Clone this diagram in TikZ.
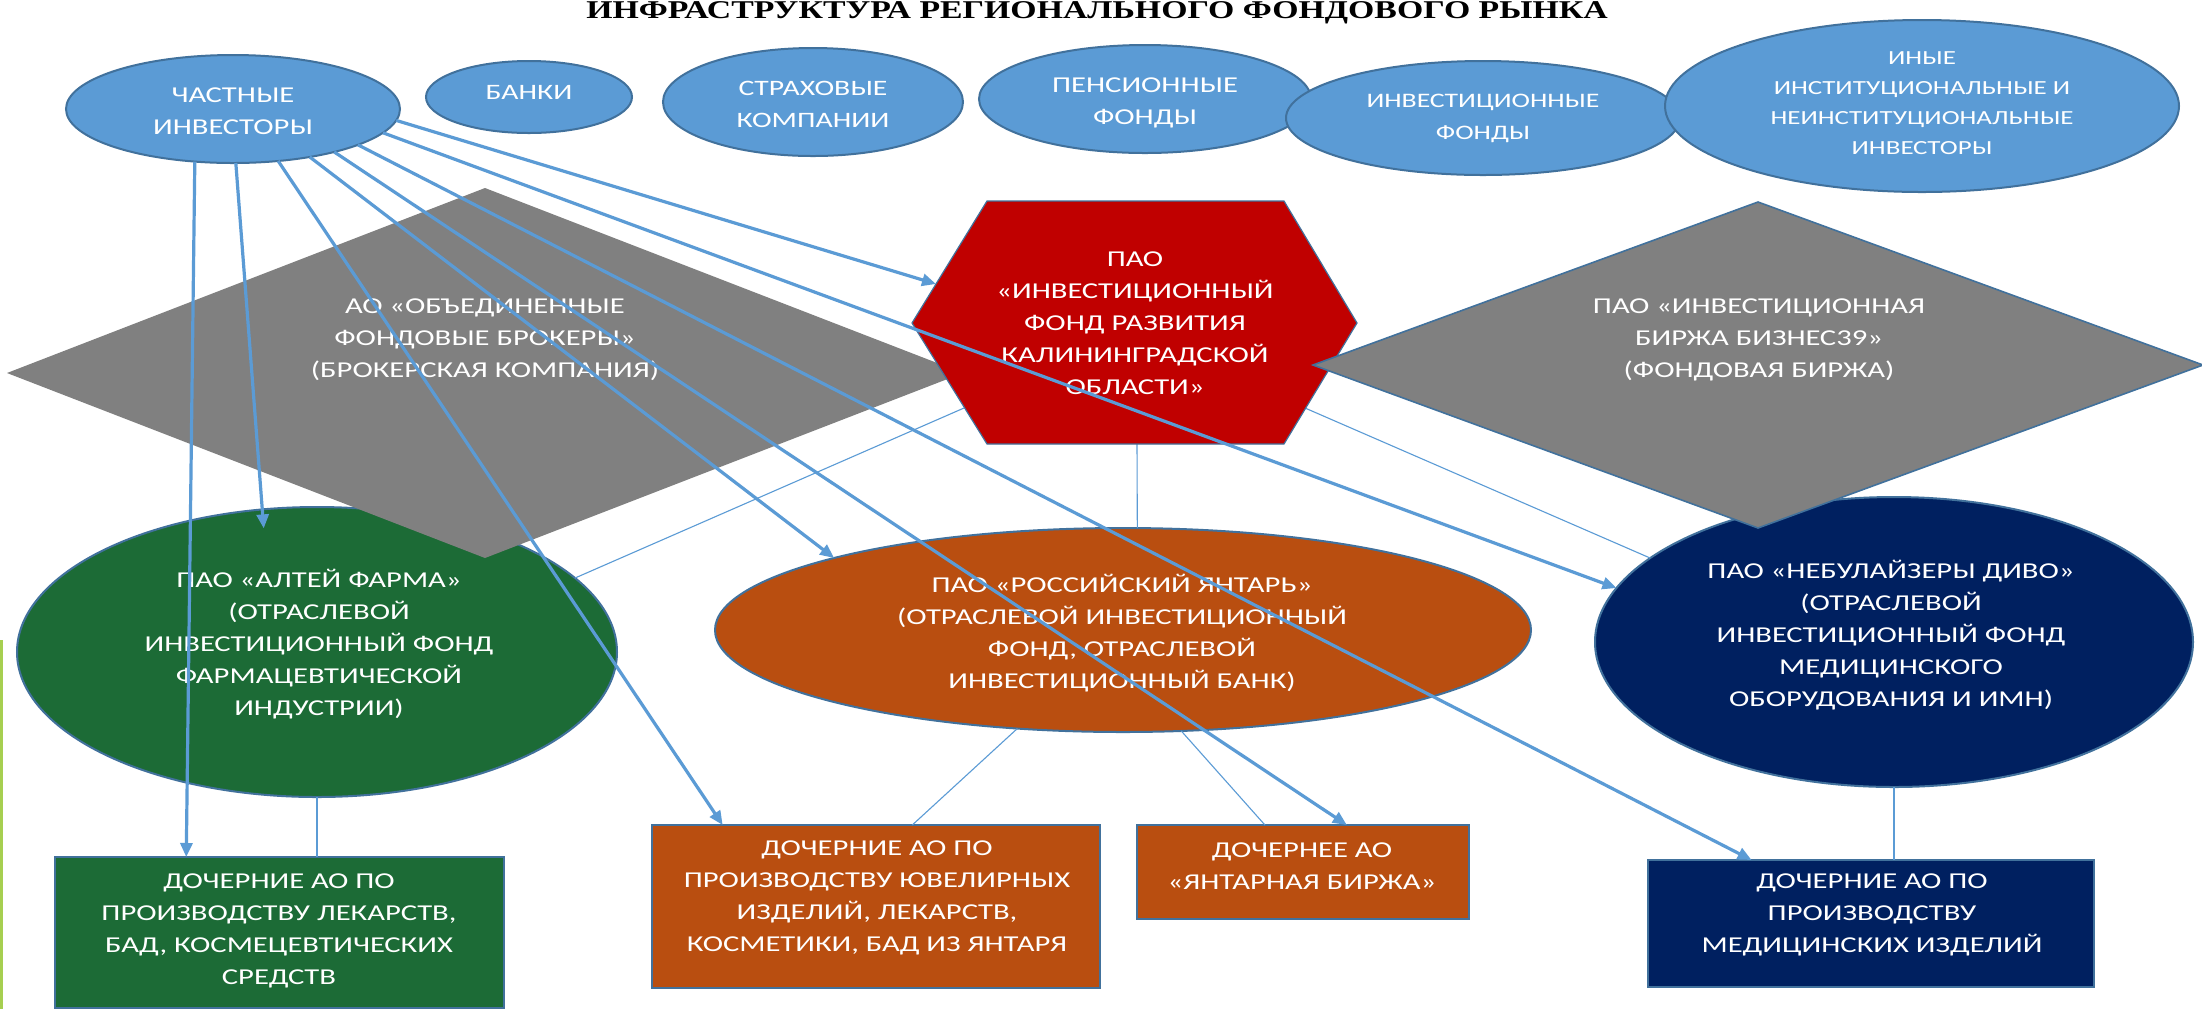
\documentclass[tikz,border=0pt]{standalone}
\usepackage{fontspec}
\setmainfont{Carlito}
\newfontfamily\bodyfont[FakeStretch=1.35]{Carlito}
\newfontfamily\titlefont[FakeStretch=1.32]{Liberation Serif}
\usetikzlibrary{shapes.geometric,arrows.meta,calc}
\definecolor{blueF}{HTML}{5B9BD5}
\definecolor{blueD}{HTML}{41719C}
\definecolor{grn}{HTML}{1C6B36}
\definecolor{brn}{HTML}{B94E10}
\definecolor{nvy}{HTML}{002060}
\definecolor{redH}{HTML}{C00000}
\definecolor{gry}{HTML}{808080}
\definecolor{limeL}{RGB}{166,207,80}
\definecolor{lnk}{HTML}{5B9BD5}
\tikzset{
  shp/.style={draw=blueD, line width=1pt, inner sep=0pt, outer sep=0pt},
  bell/.style={shp, ellipse, fill=blueF},
  cell/.style={shp, ellipse},
  box/.style={shp, rectangle},
  dia/.style={diamond, fill=gry, inner sep=0pt, outer sep=0pt},
  txt/.style={text=white, align=center, inner sep=0pt,
    font=\bodyfont\fontsize{11.35}{16}\selectfont},
  fs/.style={font=\bodyfont\fontsize{#1}{16}\selectfont},
  arr/.style={draw=lnk, line width=1.6pt, -{Triangle[length=7pt,width=6pt]}},
  thin/.style={draw=lnk, line width=0.55pt},
}
\begin{document}
\begin{tikzpicture}[x=0.5pt,y=-0.5pt]
\useasboundingbox (0,0) rectangle (2202,1009);
\fill[white] (0,0) rectangle (2202,1009);

% title
\node[inner sep=0pt, font=\titlefont\bfseries\fontsize{12.8}{14}\selectfont] (title) at (1097,13)
  {ИНФРАСТРУКТУРА РЕГИОНАЛЬНОГО ФОНДОВОГО РЫНКА};

% left decorative line
\draw[limeL, line width=1.5pt] (1.5,640) -- (1.5,1009);

% top investor ellipses
\node[bell, minimum width=167pt, minimum height=54pt] (chi) at (233,109) {};
\node[bell, minimum width=103pt, minimum height=36pt] (bank) at (529,97) {};
\node[bell, minimum width=150pt, minimum height=54pt] (strah) at (813,102) {};
\node[bell, minimum width=166pt, minimum height=54pt] (pens) at (1145,99) {};
\node[bell, minimum width=197pt, minimum height=57pt] (inv) at (1483,118) {};
\node[bell, minimum width=257pt, minimum height=86pt] (other) at (1922,106) {};
\node[txt] (chiT) at (233,111) {ЧАСТНЫЕ\\ИНВЕСТОРЫ};
\node[txt, fs=11] (bankT) at (529,92) {БАНКИ};
\node[txt, fs=11] (strahT) at (813,104) {СТРАХОВЫЕ\\КОМПАНИИ};
\node[txt] (pensT) at (1145,103) {ПЕНСИОННЫЕ\\ФОНДЫ};
\node[txt, fs=10.3] (invT) at (1483,118) {ИНВЕСТИЦИОННЫЕ\\ФОНДЫ};
\node[txt, font=\bodyfont\fontsize{10}{15}\selectfont] (otherT) at (1922,103)
  {ИНЫЕ\\ИНСТИТУЦИОНАЛЬНЫЕ И\\НЕИНСТИТУЦИОНАЛЬНЫЕ\\ИНВЕСТОРЫ};

% bottom ellipses
\node[cell, fill=grn, minimum width=300pt, minimum height=145pt] (altei) at (317,652) {};
\node[cell, fill=brn, minimum width=408pt, minimum height=102pt] (yantar) at (1123,630) {};
\node[cell, fill=nvy, minimum width=299pt, minimum height=145pt] (nebul) at (1894,642) {};

% bottom boxes
\node[box, fill=grn, minimum width=224.5pt, minimum height=75.5pt] (grect) at (279.5,932.5) {};
\node[box, fill=brn, minimum width=224pt, minimum height=81.5pt] (brect) at (876,906.5) {};
\node[box, fill=brn, minimum width=166pt, minimum height=47pt] (yrect) at (1303,872) {};
\node[box, fill=nvy, minimum width=223pt, minimum height=63.5pt] (nrect) at (1871,923.5) {};

% thin tree connectors
\coordinate (hexB) at (1137,444);
\coordinate (hexLL) at (964,408);
\coordinate (hexLR) at (1305,408);
\coordinate (hexL) at (936,284);
\draw[thin] (hexB) -- (yantar.82);
\draw[thin] (hexLL) -- (altei.16);
\draw[thin] (hexLR) -- (nebul.161);
\draw[thin] (altei.south) -- (altei.south |- grect.north);
\draw[thin] (yantar.223) -- (brect.66);
\draw[thin] (yantar.300) -- (yrect.129);
\draw[thin] (nebul.south) -- (nebul.south |- nrect.north);

% left diamond
\node[dia, minimum width=478pt, minimum height=185pt] (brok) at (485,373) {};

% hexagon
\draw[fill=redH, draw=blueD, line width=0.6pt]
  (987,201) -- (1284,201) -- (1357,323) -- (1284,444) -- (987,444) -- (912,323) -- cycle;

% right diamond
\node[dia, draw=blueD, line width=0.8pt, minimum width=445pt, minimum height=163pt] (birzha) at (1758,365) {};

% texts of middle and bottom shapes
\node[txt] (brokT) at (485,340) {АО «ОБЪЕДИНЕННЫЕ\\ФОНДОВЫЕ БРОКЕРЫ»\\(БРОКЕРСКАЯ КОМПАНИЯ)};
\node[txt] (hexT) at (1135,323) {ПАО\\«ИНВЕСТИЦИОННЫЙ\\ФОНД РАЗВИТИЯ\\КАЛИНИНГРАДСКОЙ\\ОБЛАСТИ»};
\node[txt] (birzhaT) at (1759,340) {ПАО «ИНВЕСТИЦИОННАЯ\\БИРЖА БИЗНЕС39»\\(ФОНДОВАЯ БИРЖА)};
\node[txt] (alteiT) at (319,644) {ПАО «АЛТЕЙ ФАРМА»\\(ОТРАСЛЕВОЙ\\ИНВЕСТИЦИОННЫЙ ФОНД\\ФАРМАЦЕВТИЧЕСКОЙ\\ИНДУСТРИИ)};
\node[txt] (yantarT) at (1122,633) {ПАО «РОССИЙСКИЙ ЯНТАРЬ»\\(ОТРАСЛЕВОЙ ИНВЕСТИЦИОННЫЙ\\ФОНД, ОТРАСЛЕВОЙ\\ИНВЕСТИЦИОННЫЙ БАНК)};
\node[txt] (nebulT) at (1891,635) {ПАО «НЕБУЛАЙЗЕРЫ ДИВО»\\(ОТРАСЛЕВОЙ\\ИНВЕСТИЦИОННЫЙ ФОНД\\МЕДИЦИНСКОГО\\ОБОРУДОВАНИЯ И ИМН)};
\node[txt] (grectT) at (279,931) {ДОЧЕРНИЕ АО ПО\\ПРОИЗВОДСТВУ ЛЕКАРСТВ,\\БАД, КОСМЕЦЕВТИЧЕСКИХ\\СРЕДСТВ};
\node[txt] (brectT) at (877,898) {ДОЧЕРНИЕ АО ПО\\ПРОИЗВОДСТВУ ЮВЕЛИРНЫХ\\ИЗДЕЛИЙ, ЛЕКАРСТВ,\\КОСМЕТИКИ, БАД ИЗ ЯНТАРЯ};
\node[txt] (yrectT) at (1302,866) {ДОЧЕРНЕЕ АО\\«ЯНТАРНАЯ БИРЖА»};
\node[txt] (nrectT) at (1872,915) {ДОЧЕРНИЕ АО ПО\\ПРОИЗВОДСТВУ\\МЕДИЦИНСКИХ ИЗДЕЛИЙ};

% arrows from private investors
\draw[arr] (chi.234) -- (grect.141.7);
\draw[arr, shorten >=-9.5pt] (chi.273) -- (altei.111);
\draw[arr] (chi.311) -- (brect.152.4);
\draw[arr] (chi.328.4) -- (yantar.166.1);
\draw[arr] (chi.337.5) -- (yrect.47.4);
\draw[arr] (chi.344.9) -- (nrect.152.9);
\draw[arr] (chi.351.2) -- (nebul.169);
\draw[arr] (chi.356.6) -- (hexL);
\end{tikzpicture}
\end{document}
